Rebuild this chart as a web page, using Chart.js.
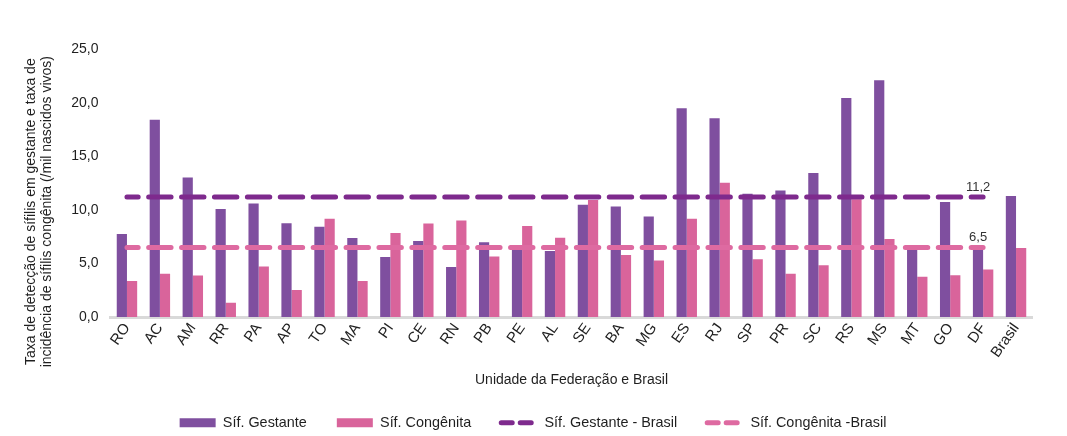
<!DOCTYPE html>
<html>
<head>
<meta charset="utf-8">
<script src="https://cdn.jsdelivr.net/npm/chart.js@4.4.1/dist/chart.umd.min.js"></script>
<style>
html,body{margin:0;padding:0;background:#ffffff;}
canvas{display:block;}
</style>
</head>
<body>
<canvas id="c" width="1067" height="436"></canvas>
<script>
// ---- data ----
const categories = ['RO','AC','AM','RR','PA','AP','TO','MA','PI','CE','RN','PB','PE','AL','SE','BA','MG','ES','RJ','SP','PR','SC','RS','MS','MT','GO','DF','Brasil'];
const sifGestante = [7.75,18.43,13.03,10.08,10.61,8.76,8.43,7.38,5.61,7.10,4.68,6.97,6.30,6.17,10.48,10.33,9.39,19.50,18.56,11.50,11.82,13.44,20.46,22.11,6.40,10.74,6.41,11.30];
const sifCongenita = [3.37,4.03,3.87,1.32,4.71,2.53,9.18,3.37,7.85,8.74,9.02,5.64,8.50,7.41,10.92,5.80,5.27,9.18,12.53,5.39,4.05,4.83,11.00,7.29,3.77,3.90,4.43,6.45];
const sifGestanteBrasil = [11.2,11.2,11.2,11.2,11.2,11.2,11.2,11.2,11.2,11.2,11.2,11.2,11.2,11.2,11.2,11.2,11.2,11.2,11.2,11.2,11.2,11.2,11.2,11.2,11.2,11.2,11.2,null];
const sifCongenitaBrasil = [6.5,6.5,6.5,6.5,6.5,6.5,6.5,6.5,6.5,6.5,6.5,6.5,6.5,6.5,6.5,6.5,6.5,6.5,6.5,6.5,6.5,6.5,6.5,6.5,6.5,6.5,6.5,null];
const yTickValues = [0,5,10,15,20,25];
const seriesNames = ['Síf. Gestante','Síf. Congênita','Síf. Gestante - Brasil','Síf. Congênita -Brasil'];
const yTitleLines = ['Taxa de detecção de sífilis em gestante e taxa de','incidência de sífilis congênita (/mil nascidos vivos)'];
const xTitle = 'Unidade da Federação e Brasil';

// ---- styles ----
const FONT = '"Liberation Sans", Arial, sans-serif';
const TXT = '#1f1f1f';
const C_PURPLE = '#7f4f9f';
const C_PINK = '#d9649b';
const C_LPURPLE = '#7e2a8d';
const C_LPINK = '#de6aa1';
const fmt = v => v.toFixed(1).replace('.', ',');

const endLabels = {
  id: 'endLabels',
  afterDatasetsDraw(chart) {
    const ctx = chart.ctx;
    [2, 3].forEach(di => {
      const data = chart.data.datasets[di].data;
      let idx = data.length - 1;
      while (idx > 0 && data[idx] == null) idx--;
      const pt = chart.getDatasetMeta(di).data[idx];
      ctx.save();
      ctx.font = '13px ' + FONT;
      ctx.fillStyle = '#333333';
      ctx.textAlign = 'center';
      ctx.textBaseline = 'middle';
      ctx.fillText(fmt(data[idx]), pt.x - 5, pt.y - 10);
      ctx.restore();
    });
  }
};

const yTitle = {
  id: 'yTitle',
  afterDraw(chart) {
    const ctx = chart.ctx;
    const a = chart.chartArea;
    const cy = (a.top + a.bottom) / 2 + 28.5;
    ctx.save();
    ctx.font = '14px ' + FONT;
    ctx.fillStyle = TXT;
    ctx.textAlign = 'center';
    ctx.textBaseline = 'middle';
    yTitleLines.forEach((t, i) => {
      ctx.save();
      ctx.translate(31 + i * 16, cy);
      ctx.rotate(-Math.PI / 2);
      ctx.fillText(t, 0, 0);
      ctx.restore();
    });
    ctx.restore();
  }
};

new Chart(document.getElementById('c'), {
  data: {
    labels: categories,
    datasets: [
      { type: 'bar', label: seriesNames[0], data: sifGestante, backgroundColor: C_PURPLE, borderWidth: 0,
        categoryPercentage: 0.62, barPercentage: 1.0, order: 1 },
      { type: 'bar', label: seriesNames[1], data: sifCongenita, backgroundColor: C_PINK, borderWidth: 0,
        categoryPercentage: 0.62, barPercentage: 1.0, order: 1 },
      { type: 'line', label: seriesNames[2], data: sifGestanteBrasil, borderColor: C_LPURPLE, backgroundColor: C_LPURPLE,
        borderWidth: 5, borderDash: [22.4, 10.5], borderDashOffset: 11.2, borderCapStyle: 'round',
        pointRadius: 0, pointHoverRadius: 0, fill: false, tension: 0, order: 0 },
      { type: 'line', label: seriesNames[3], data: sifCongenitaBrasil, borderColor: C_LPINK, backgroundColor: C_LPINK,
        borderWidth: 5, borderDash: [22.4, 10.5], borderDashOffset: 11.2, borderCapStyle: 'round',
        pointRadius: 0, pointHoverRadius: 0, fill: false, tension: 0, order: 0 }
    ]
  },
  options: {
    responsive: false,
    animation: false,
    devicePixelRatio: 1,
    layout: { padding: { top: 49.3, right: 34.5, left: 33.5, bottom: -4 } },
    plugins: {
      tooltip: { enabled: false },
      legend: {
        position: 'bottom',
        labels: {
          font: { family: FONT, size: 14.4 },
          color: TXT,
          usePointStyle: true,
          pointStyleWidth: 36,
          boxHeight: 9,
          padding: 30,
          generateLabels(chart) {
            const items = Chart.defaults.plugins.legend.labels.generateLabels(chart);
            items.forEach(it => {
              const ds = chart.data.datasets[it.datasetIndex];
              if (ds.type === 'line') {
                it.pointStyle = 'line';
                it.lineDash = [11, 8];
                it.lineDashOffset = 0;
                it.lineWidth = 5;
                it.lineCap = 'round';
                it.strokeStyle = ds.borderColor;
                it.fillStyle = ds.borderColor;
              } else {
                it.pointStyle = 'rect';
                it.lineWidth = 0;
                it.fillStyle = ds.backgroundColor;
              }
            });
            items.sort((a, b) => a.datasetIndex - b.datasetIndex);
            return items;
          }
        }
      }
    },
    scales: {
      x: {
        grid: { display: false, drawTicks: false },
        border: { display: true, color: '#d9d9d9', width: 3 },
        ticks: { autoSkip: false, maxRotation: 55, minRotation: 55, padding: 3,
                 font: { family: FONT, size: 15 }, color: TXT },
        title: { display: true, text: xTitle, font: { family: FONT, size: 14 }, color: TXT,
                 padding: { top: 0, bottom: -3 } },
        afterFit(scale) { scale.height = 68.6; }
      },
      y: {
        min: 0, max: 25,
        afterBuildTicks(scale) { scale.ticks = yTickValues.map(v => ({ value: v })); },
        grid: { display: false, drawTicks: false },
        border: { display: false },
        ticks: { padding: 12, font: { family: FONT, size: 14 }, color: TXT, callback: v => fmt(v) },
        afterFit(scale) { scale.width = 77; }
      }
    }
  },
  plugins: [endLabels, yTitle]
});
</script>
</body>
</html>
